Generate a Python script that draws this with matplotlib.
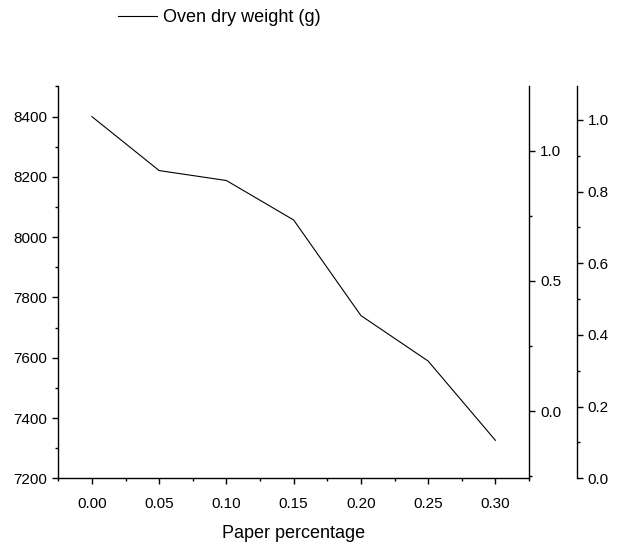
import matplotlib
matplotlib.use('Agg')
import matplotlib.pyplot as plt
from matplotlib.ticker import MultipleLocator

plt.rcParams['font.family'] = ['Liberation Sans', 'DejaVu Sans']

# Data
paper_pct = [0.00, 0.05, 0.10, 0.15, 0.20, 0.25, 0.30]
oven_dry_weight = [8400, 8221, 8188, 8057, 7740, 7589, 7326]
series_label = 'Oven dry weight (g)'
x_label = 'Paper percentage'

fig = plt.figure(figsize=(6.22, 5.47), dpi=100)
ax = fig.add_axes([0.0937, 0.1256, 0.7568, 0.7163])

line, = ax.plot(paper_pct, oven_dry_weight, color='black', lw=0.8)

ax.set_xlim(-0.025, 0.325)
ax.set_ylim(7200, 8500)
ax.xaxis.set_major_locator(MultipleLocator(0.05))
ax.xaxis.set_minor_locator(MultipleLocator(0.025))
ax.yaxis.set_major_locator(MultipleLocator(200))
ax.yaxis.set_minor_locator(MultipleLocator(100))
ax.xaxis.set_major_formatter(lambda v, p: '{:.2f}'.format(v))
ax.set_xlabel(x_label, fontsize=13, labelpad=10)

# Two extra empty right axes
ax2 = ax.twinx()
ax2.set_ylim(-0.258, 1.247)
ax2.yaxis.set_major_locator(MultipleLocator(0.5))
ax2.yaxis.set_minor_locator(MultipleLocator(0.25))
ax2.yaxis.set_major_formatter(lambda v, p: '{:.1f}'.format(v))

ax3 = ax.twinx()
ax3.set_ylim(0, 1.093)
ax3.spines['right'].set_position(('axes', 1.101))
ax3.yaxis.set_major_locator(MultipleLocator(0.2))
ax3.yaxis.set_minor_locator(MultipleLocator(0.1))
ax3.yaxis.set_major_formatter(lambda v, p: '{:.1f}'.format(v))

for a in (ax, ax2, ax3):
    a.spines['top'].set_visible(False)
    for s in a.spines.values():
        s.set_linewidth(1.0)
    a.tick_params(which='major', length=4.5, width=1.0, labelsize=11, direction='out')
    a.tick_params(which='minor', length=2.5, width=1.0, direction='out')
ax.tick_params(axis='x', which='major', pad=9)
ax.spines['right'].set_visible(False)
for a in (ax2, ax3):
    a.spines['left'].set_visible(False)
    a.spines['bottom'].set_visible(False)

fig.legend([line], [series_label], loc='center left', bbox_to_anchor=(117.7 / 622, 1 - 18 / 547),
           frameon=False, fontsize=13, handlelength=2.2, handletextpad=0.3,
           borderpad=0, borderaxespad=0)

fig.savefig('out.png', dpi=100)
